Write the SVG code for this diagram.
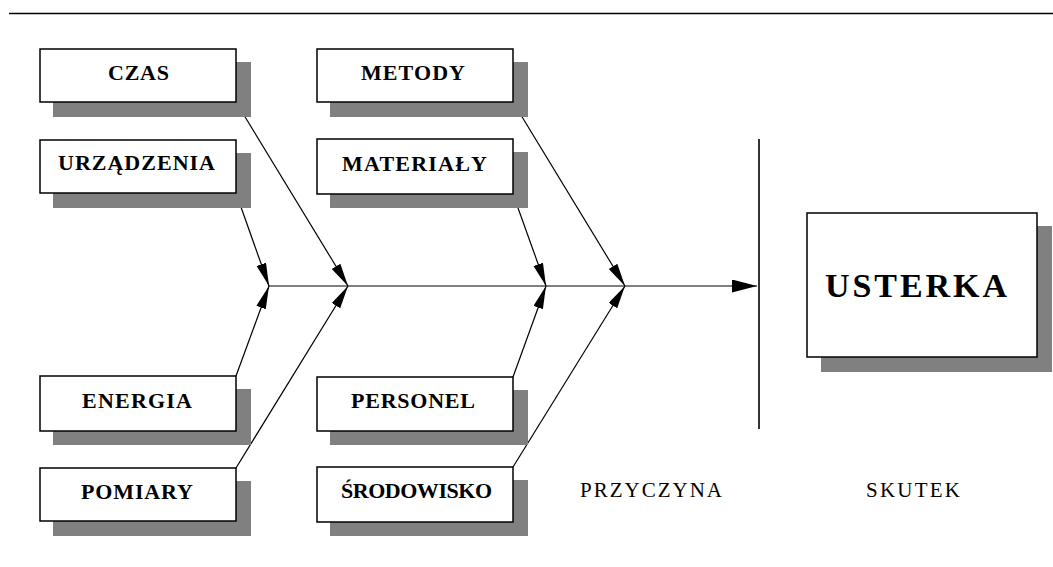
<svg xmlns="http://www.w3.org/2000/svg" width="1053" height="567" viewBox="0 0 1053 567">
<style>
.box{fill:#fff;stroke:#000;stroke-width:1.5}
.sh{fill:#808080}
.lbl{font-family:"Liberation Serif","Times New Roman",serif;font-weight:bold;font-size:22px;fill:#000}
.big{font-family:"Liberation Serif","Times New Roman",serif;font-weight:bold;font-size:34px;fill:#000}
.mono{font-family:"Liberation Serif","Times New Roman",serif;font-size:21px;fill:#000}
.ln{stroke:#000;stroke-width:1.2;fill:none}
</style>
<defs>
<marker id="ah" markerUnits="userSpaceOnUse" markerWidth="24" markerHeight="12" refX="23" refY="5" orient="auto">
<path d="M0,0 L23,5 L0,10 z" fill="#000"/>
</marker>
<marker id="ahm" markerUnits="userSpaceOnUse" markerWidth="26" markerHeight="14" refX="25" refY="6.5" orient="auto">
<path d="M0,0 L25,6.5 L0,13 z" fill="#000"/>
</marker>
</defs>
<rect width="1053" height="567" fill="#fff"/>
<line x1="9" y1="13.5" x2="1053" y2="13.5" stroke="#000" stroke-width="1.6"/>

<g id="connectors">
<line class="ln" x1="269" y1="286" x2="757" y2="286" marker-end="url(#ahm)"/>
<line class="ln" x1="236" y1="102" x2="348" y2="286" marker-end="url(#ah)"/>
<line class="ln" x1="236" y1="193" x2="269" y2="286" marker-end="url(#ah)"/>
<line class="ln" x1="236" y1="376" x2="269" y2="286" marker-end="url(#ah)"/>
<line class="ln" x1="236" y1="468" x2="348" y2="286" marker-end="url(#ah)"/>
<line class="ln" x1="513" y1="102" x2="625" y2="286" marker-end="url(#ah)"/>
<line class="ln" x1="513" y1="194" x2="546" y2="286" marker-end="url(#ah)"/>
<line class="ln" x1="513" y1="377" x2="546" y2="286" marker-end="url(#ah)"/>
<line class="ln" x1="513" y1="467" x2="625" y2="286" marker-end="url(#ah)"/>
<line x1="759" y1="139" x2="759" y2="429" stroke="#000" stroke-width="1.6"/>
</g>

<g id="czas">
<rect class="sh" x="53" y="62" width="198" height="55"/>
<rect class="box" x="40" y="49" width="196" height="53"/>
<text class="lbl" x="108" y="80" textLength="61" lengthAdjust="spacing">CZAS</text>
</g>
<g id="urzadzenia">
<rect class="sh" x="53" y="153" width="198" height="55"/>
<rect class="box" x="40" y="140" width="196" height="53"/>
<text class="lbl" x="58" y="170" textLength="157" lengthAdjust="spacing">URZĄDZENIA</text>
</g>
<g id="energia">
<rect class="sh" x="53" y="389" width="198" height="56"/>
<rect class="box" x="40" y="376" width="196" height="55"/>
<text class="lbl" x="82" y="408" textLength="110" lengthAdjust="spacing">ENERGIA</text>
</g>
<g id="pomiary">
<rect class="sh" x="53" y="481" width="198" height="55"/>
<rect class="box" x="40" y="468" width="196" height="53"/>
<text class="lbl" x="81" y="499" textLength="112" lengthAdjust="spacing">POMIARY</text>
</g>
<g id="metody">
<rect class="sh" x="330" y="62" width="198" height="55"/>
<rect class="box" x="317" y="49" width="196" height="53"/>
<text class="lbl" x="361" y="80" textLength="104" lengthAdjust="spacing">METODY</text>
</g>
<g id="materialy">
<rect class="sh" x="330" y="152" width="198" height="56"/>
<rect class="box" x="317" y="139" width="196" height="55"/>
<text class="lbl" x="342" y="171" textLength="145" lengthAdjust="spacing">MATERIAŁY</text>
</g>
<g id="personel">
<rect class="sh" x="330" y="390" width="198" height="55"/>
<rect class="box" x="317" y="377" width="196" height="54"/>
<text class="lbl" x="351" y="408" textLength="124" lengthAdjust="spacing">PERSONEL</text>
</g>
<g id="srodowisko">
<rect class="sh" x="330" y="480" width="198" height="56"/>
<rect class="box" x="317" y="467" width="196" height="55"/>
<text class="lbl" x="341" y="498" textLength="151" lengthAdjust="spacing">ŚRODOWISKO</text>
</g>
<g id="usterka">
<rect class="sh" x="821" y="226" width="231" height="146"/>
<rect class="box" x="807" y="213" width="230" height="144"/>
<text class="big" x="825" y="297" textLength="182" lengthAdjust="spacing">USTERKA</text>
</g>
<g id="przyczyna">
<text class="mono" x="580" y="497" textLength="142" lengthAdjust="spacing">PRZYCZYNA</text>
</g>
<g id="skutek">
<text class="mono" x="866" y="497" textLength="94" lengthAdjust="spacing">SKUTEK</text>
</g>
</svg>
